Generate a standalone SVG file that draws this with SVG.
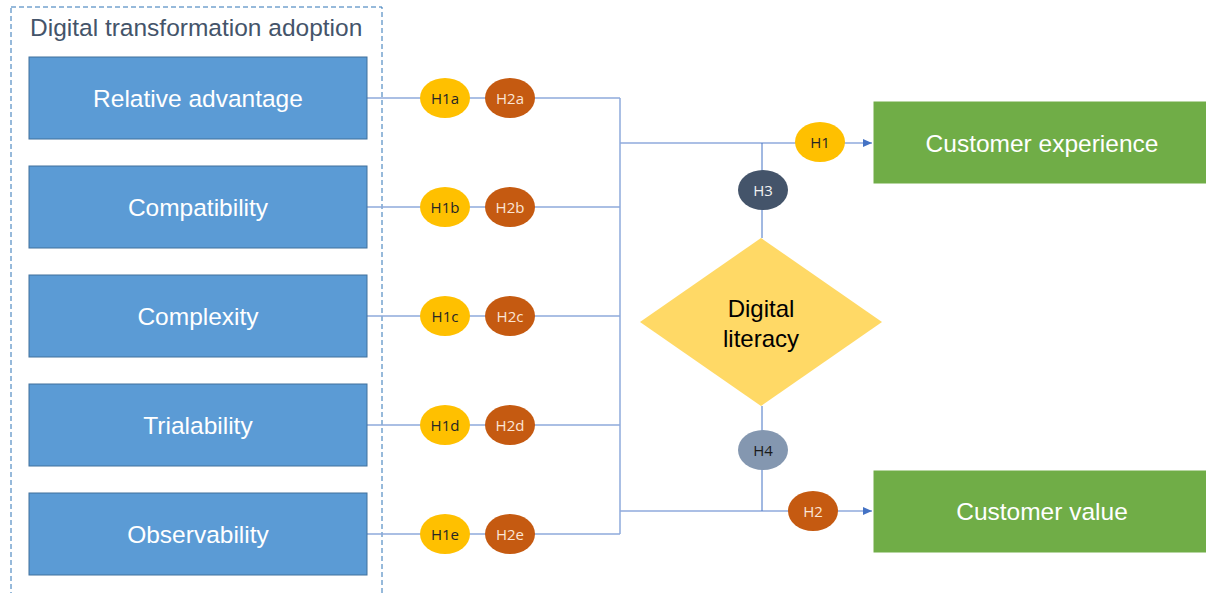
<svg xmlns="http://www.w3.org/2000/svg" width="1206" height="593" viewBox="0 0 1206 593">
<style>
.box{fill:#5b9bd5;stroke:#41719c;stroke-width:1}
.gbox{fill:#70ad47;stroke:#fff;stroke-width:1}
.lbl{font-family:"Liberation Sans",Arial,sans-serif;font-size:24.5px;fill:#fff;text-anchor:middle;dominant-baseline:central}
.h{font-family:"Open Sans","Noto Sans",sans-serif;font-size:15px;text-anchor:middle;dominant-baseline:central}
.h1{fill:#ffc000}
.h2{fill:#c55a11}
.ln{stroke:#8faadc;stroke-width:1.5;fill:none}
.ln2{stroke:#4472c4;stroke-width:1;fill:none}
</style>
<defs>
<marker id="arr" markerWidth="10" markerHeight="10" refX="9" refY="5" orient="auto" markerUnits="userSpaceOnUse">
<path d="M0,1 L9,5 L0,9 Z" fill="#4472c4"/>
</marker>
</defs>
<rect width="1206" height="593" fill="#fff"/>
<g id="group-adoption">
<rect x="11" y="7" width="371" height="600" fill="none" stroke="#2e75b6" stroke-width="1" stroke-dasharray="5,3"/>
<text x="30" y="27" font-family="Liberation Sans,Arial,sans-serif" font-size="24.5" fill="#44546a" dominant-baseline="central">Digital transformation adoption</text>
</g>
<g id="connectors">
<path class="ln" d="M367,98 H620 M367,207 H620 M367,316 H620 M367,425 H620 M367,534 H620 M620,98 V534"/>
<path class="ln" d="M620,143 H872" marker-end="url(#arr)"/>
<path class="ln" d="M620,511 H872" marker-end="url(#arr)"/>
<path class="ln2" d="M762,143 V238 M762,406 V511"/>
</g>
<g id="n-relative"><rect class="box" x="29" y="57" width="338" height="82"/><text class="lbl" x="198" y="98">Relative advantage</text></g>
<g id="n-compat"><rect class="box" x="29" y="166" width="338" height="82"/><text class="lbl" x="198" y="207">Compatibility</text></g>
<g id="n-complex"><rect class="box" x="29" y="275" width="338" height="82"/><text class="lbl" x="198" y="316">Complexity</text></g>
<g id="n-trial"><rect class="box" x="29" y="384" width="338" height="82"/><text class="lbl" x="198" y="425">Trialability</text></g>
<g id="n-observ"><rect class="box" x="29" y="493" width="338" height="82"/><text class="lbl" x="198" y="534">Observability</text></g>
<g id="h1a"><ellipse class="h1" cx="445" cy="98" rx="25" ry="20"/><text class="h" x="445" y="98" fill="#262626">H1a</text></g>
<g id="h2a"><ellipse class="h2" cx="510" cy="98" rx="25" ry="20"/><text class="h" x="510" y="98" fill="#fbe5d6">H2a</text></g>
<g id="h1b"><ellipse class="h1" cx="445" cy="207" rx="25" ry="20"/><text class="h" x="445" y="207" fill="#262626">H1b</text></g>
<g id="h2b"><ellipse class="h2" cx="510" cy="207" rx="25" ry="20"/><text class="h" x="510" y="207" fill="#fbe5d6">H2b</text></g>
<g id="h1c"><ellipse class="h1" cx="445" cy="316" rx="25" ry="20"/><text class="h" x="445" y="316" fill="#262626">H1c</text></g>
<g id="h2c"><ellipse class="h2" cx="510" cy="316" rx="25" ry="20"/><text class="h" x="510" y="316" fill="#fbe5d6">H2c</text></g>
<g id="h1d"><ellipse class="h1" cx="445" cy="425" rx="25" ry="20"/><text class="h" x="445" y="425" fill="#262626">H1d</text></g>
<g id="h2d"><ellipse class="h2" cx="510" cy="425" rx="25" ry="20"/><text class="h" x="510" y="425" fill="#fbe5d6">H2d</text></g>
<g id="h1e"><ellipse class="h1" cx="445" cy="534" rx="25" ry="20"/><text class="h" x="445" y="534" fill="#262626">H1e</text></g>
<g id="h2e"><ellipse class="h2" cx="510" cy="534" rx="25" ry="20"/><text class="h" x="510" y="534" fill="#fbe5d6">H2e</text></g>
<g id="h1"><ellipse class="h1" cx="820" cy="142" rx="25" ry="20"/><text class="h" x="820" y="142" fill="#262626">H1</text></g>
<g id="h3"><ellipse fill="#44546a" cx="763" cy="190" rx="25" ry="20"/><text class="h" x="763" y="190" fill="#f2f2f2">H3</text></g>
<g id="literacy"><polygon points="761,238 882,322 761,406 640,322" fill="#ffd966"/><text x="761" y="308" font-family="Liberation Sans,Arial,sans-serif" font-size="24" fill="#000" text-anchor="middle" dominant-baseline="central">Digital</text><text x="761" y="338" font-family="Liberation Sans,Arial,sans-serif" font-size="24" fill="#000" text-anchor="middle" dominant-baseline="central">literacy</text></g>
<g id="h4"><ellipse fill="#8497b0" cx="763" cy="450" rx="25" ry="20"/><text class="h" x="763" y="450" fill="#1a1a1a">H4</text></g>
<g id="h2"><ellipse class="h2" cx="813" cy="511" rx="25" ry="20"/><text class="h" x="813" y="511" fill="#fbe5d6">H2</text></g>
<g id="n-cx"><rect class="gbox" x="873" y="101" width="340" height="83"/><text class="lbl" x="1042" y="143">Customer experience</text></g>
<g id="n-cv"><rect class="gbox" x="873" y="470" width="340" height="83"/><text class="lbl" x="1042" y="511">Customer value</text></g>
</svg>
